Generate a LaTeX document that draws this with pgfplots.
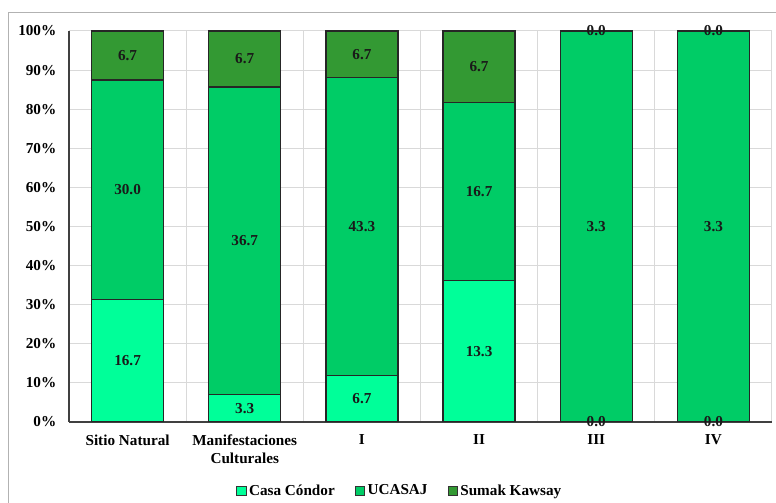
\documentclass[border=0pt]{standalone}
\usepackage{pgfplots}
\pgfplotsset{compat=1.18}
\usepackage{pgfplotstable}
\usepackage{fontspec}
\setmainfont{Liberation Serif}
\definecolor{cc}{HTML}{00FF99}
\definecolor{uc}{HTML}{00CC66}
\definecolor{sk}{HTML}{339933}
\definecolor{gridc}{HTML}{D9D9D9}
\pgfplotstableread{
x cc uc sk
0 16.7 30.0 6.7
1 3.3 36.7 6.7
2 6.7 43.3 6.7
3 13.3 16.7 6.7
4 0.0 3.3 0.0
5 0.0 3.3 0.0
}\data
\begin{document}
\begin{tikzpicture}
\path[use as bounding box] (0pt,0pt) rectangle (582pt,377.25pt);
\draw[gray!60, line width=0.75pt] (6pt,0pt) -- (6pt,367.5pt) -- (582pt,367.5pt);
\pgfplotsset{
  common/.style={
    at={(51.75pt,60.75pt)}, anchor=south west,
    scale only axis, width=527.25pt, height=293.25pt,
    xmin=-0.5, xmax=5.5, ymin=0, ymax=100,
    /pgf/number format/assume math mode=true,
  }
}
\begin{axis}[common,
  ybar stacked, bar width=54pt,
  font=\fontsize{11.4}{13.6}\selectfont\bfseries,
  xtick={0,1,2,3,4,5},
  xticklabels={Sitio Natural,{Manifestaciones\\Culturales},I,II,III,IV},
  xticklabel style={align=center, anchor=north, yshift=-6pt},
  minor xtick={-0.5,0.5,1.5,2.5,3.5,4.5,5.5},
  ytick={0,10,...,100},
  yticklabel={\pgfmathprintnumber{\tick}\%},
  yticklabel style={xshift=-6pt},
  major tick length=0pt, minor tick length=0pt,
  xmajorgrids=false, xminorgrids=true, ymajorgrids=true,
  grid style={gridc, line width=0.75pt},
  minor grid style={gridc, line width=0.75pt},
  axis x line*=bottom, axis y line*=left,
  axis line style={black!75, line width=0.9pt},
  legend style={at={(0.471,-0.176)}, anchor=center, draw=none, fill=none,
    legend columns=-1, font=\fontsize{11.4}{13.6}\selectfont\bfseries,
    /tikz/every even column/.append style={column sep=13pt}},
  legend image code/.code={\draw[#1, draw=black!80, line width=0.6pt] (0pt,-3.5pt) rectangle (7pt,3.5pt);},
]
\addplot[fill=cc, draw=black!85, line width=0.9pt] table[x=x, y expr={\thisrow{cc}/(\thisrow{cc}+\thisrow{uc}+\thisrow{sk})*100}]{\data};
\addplot[fill=uc, draw=black!85, line width=0.9pt] table[x=x, y expr={\thisrow{uc}/(\thisrow{cc}+\thisrow{uc}+\thisrow{sk})*100}]{\data};
\addplot[fill=sk, draw=black!85, line width=0.9pt] table[x=x, y expr={\thisrow{sk}/(\thisrow{cc}+\thisrow{uc}+\thisrow{sk})*100}]{\data};
\legend{Casa Cóndor, UCASAJ, Sumak Kawsay}
\end{axis}
\begin{axis}[common, hide axis,
  nodes near coords={\pgfmathprintnumber[fixed,fixed zerofill,precision=1]{\pgfplotspointmeta}},
  every node near coord/.append style={anchor=center, font=\fontsize{11.4}{13.6}\selectfont\bfseries, text=black!90},
]
\addplot[only marks, mark=none, point meta=explicit] table[x=x, y expr={0.5*\thisrow{cc}/(\thisrow{cc}+\thisrow{uc}+\thisrow{sk})*100}, meta=cc]{\data};
\addplot[only marks, mark=none, point meta=explicit] table[x=x, y expr={(\thisrow{cc}+0.5*\thisrow{uc})/(\thisrow{cc}+\thisrow{uc}+\thisrow{sk})*100}, meta=uc]{\data};
\addplot[only marks, mark=none, point meta=explicit] table[x=x, y expr={(\thisrow{cc}+\thisrow{uc}+0.5*\thisrow{sk})/(\thisrow{cc}+\thisrow{uc}+\thisrow{sk})*100}, meta=sk]{\data};
\end{axis}
\end{tikzpicture}
\end{document}
